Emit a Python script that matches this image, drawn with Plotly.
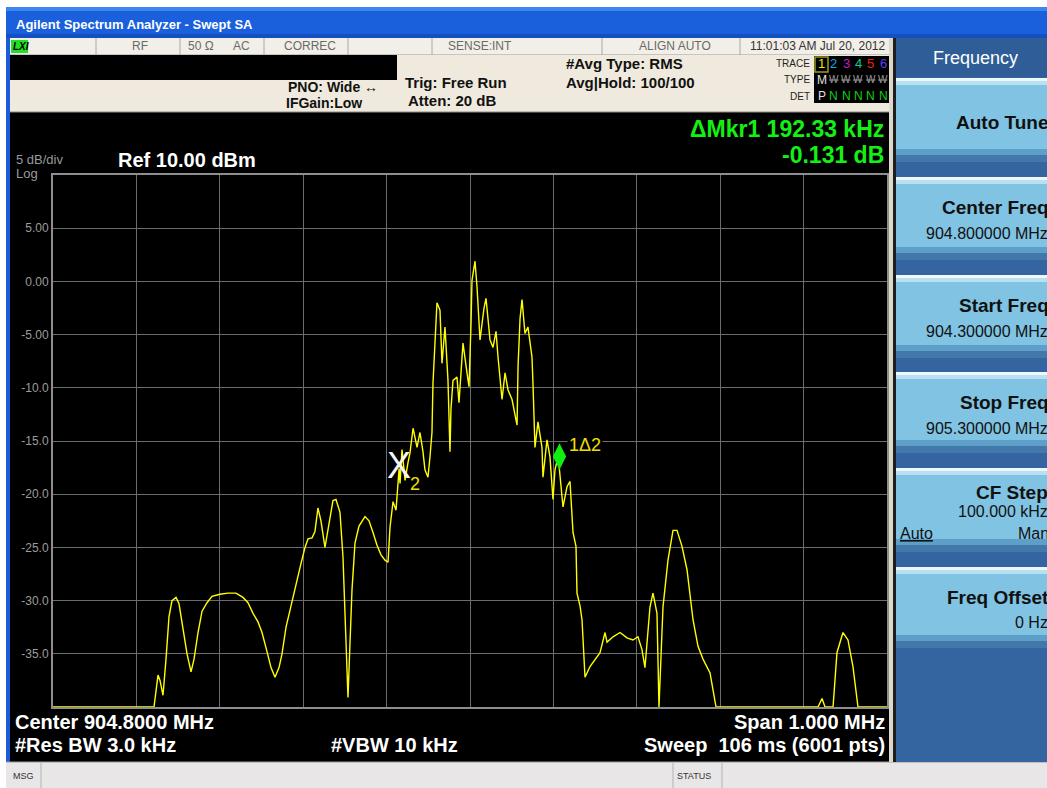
import plotly.graph_objects as go

# ---------------- data ----------------
freq_mhz = [904.3000, 904.4163, 904.4211, 904.4235, 904.4259, 904.4283, 904.4319, 904.4355, 904.4391, 904.4427,
            904.4475, 904.4511, 904.4559, 904.4607, 904.4655, 904.4691, 904.4739, 904.4787, 904.4847, 904.4906,
            904.5002, 904.5098, 904.5194, 904.5278, 904.5338, 904.5398, 904.5458, 904.5506, 904.5566, 904.5614,
            904.5662, 904.5710, 904.5746, 904.5794, 904.5842, 904.5890, 904.5926, 904.5974, 904.6022, 904.6058,
            904.6106, 904.6141, 904.6177, 904.6213, 904.6261, 904.6309, 904.6357, 904.6393, 904.6441, 904.6477,
            904.6501, 904.6525, 904.6537, 904.6561, 904.6585, 904.6621, 904.6669, 904.6741, 904.6789, 904.6837,
            904.6885, 904.6933, 904.6981, 904.7017, 904.7041, 904.7077, 904.7113, 904.7150, 904.7161, 904.7185,
            904.7221, 904.7257, 904.7281, 904.7317, 904.7365, 904.7400, 904.7436, 904.7460, 904.7496, 904.7520,
            904.7544, 904.7556, 904.7580, 904.7604, 904.7640, 904.7664, 904.7700, 904.7736, 904.7760, 904.7772,
            904.7796, 904.7844, 904.7868, 904.7892, 904.7916, 904.7964, 904.7988, 904.8012, 904.8024, 904.8060,
            904.8084, 904.8120, 904.8144, 904.8168, 904.8192, 904.8216, 904.8240, 904.8276, 904.8312, 904.8336,
            904.8360, 904.8384, 904.8420, 904.8456, 904.8504, 904.8540, 904.8564, 904.8576, 904.8600, 904.8624,
            904.8659, 904.8695, 904.8743, 904.8755, 904.8779, 904.8815, 904.8863, 904.8875, 904.8923, 904.8959,
            904.8995, 904.9019, 904.9055, 904.9073, 904.9115, 904.9163, 904.9199, 904.9235, 904.9271, 904.9283,
            904.9319, 904.9343, 904.9379, 904.9439, 904.9499, 904.9559, 904.9619, 904.9643, 904.9715, 904.9799,
            904.9882, 904.9954, 905.0014, 905.0062, 905.0098, 905.0134, 905.0158, 905.0194, 905.0242, 905.0266,
            905.0290, 905.0314, 905.0374, 905.0434, 905.0482, 905.0542, 905.0602, 905.0674, 905.0734, 905.0794,
            905.0878, 905.0926, 905.0950, 905.2173, 905.2221, 905.2257, 905.2353, 905.2376, 905.2400, 905.2472,
            905.2532, 905.2592, 905.2628, 905.2652, 905.3000]
level_dbm = [-40.0, -40.0, -40.0, -38.5, -37.0, -37.5, -38.9, -35.5, -31.5, -30.0,
             -29.7, -30.3, -32.5, -35.0, -36.7, -35.5, -33.0, -31.0, -30.2, -29.6,
             -29.4, -29.3, -29.3, -29.7, -30.2, -31.2, -32.0, -33.0, -34.8, -36.3,
             -37.2, -36.3, -35.0, -32.5, -30.9, -29.2, -28.1, -26.5, -25.0, -24.2,
             -24.1, -23.5, -21.3, -22.5, -25.0, -22.8, -20.6, -20.5, -21.7, -25.9,
             -30.6, -37.0, -39.1, -34.0, -29.0, -24.6, -23.0, -22.1, -22.5, -23.6,
             -24.8, -25.7, -26.2, -26.4, -23.1, -20.7, -21.5, -17.6, -19.0, -15.8,
             -18.7, -17.0, -16.1, -13.8, -15.6, -14.2, -16.0, -17.7, -18.4, -16.5,
             -14.2, -9.6, -5.0, -2.0, -2.7, -7.7, -4.3, -9.3, -16.0, -12.0,
             -9.3, -9.0, -11.4, -8.0, -5.8, -8.6, -9.9, -4.0, 0.1, 1.9,
             -0.5, -5.5, -3.9, -2.5, -1.6, -3.6, -5.5, -6.2, -4.7, -7.1,
             -9.0, -11.1, -8.6, -10.2, -11.1, -12.5, -13.5, -8.0, -3.5, -1.7,
             -4.9, -4.3, -7.1, -9.6, -15.6, -13.2, -15.6, -18.4, -14.9, -16.5,
             -20.5, -17.7, -16.5, -17.73, -21.2, -19.3, -18.8, -23.6, -24.9, -29.3,
             -30.5, -31.8, -37.2, -36.2, -35.5, -34.9, -33.0, -33.9, -33.4, -33.0,
             -33.5, -33.7, -33.4, -34.6, -36.3, -32.5, -30.6, -29.3, -31.2, -40.0,
             -36.0, -30.6, -26.2, -23.4, -23.4, -24.9, -27.1, -31.8, -34.3, -35.5,
             -36.8, -39.1, -40.0, -40.0, -39.2, -40.0, -40.0, -37.5, -34.9, -33.0,
             -33.7, -36.2, -38.5, -40.0, -40.0]

mkr_freq = [904.9073, 904.7150]      # marker 1 (delta), marker 2 (reference)
mkr_level = [-17.73, -17.60]

ytick_vals = [5, 0, -5, -10, -15, -20, -25, -30, -35]
ytick_text = ["5.00", "0.00", "-5.00", "-10.0", "-15.0", "-20.0", "-25.0", "-30.0", "-35.0"]
xgrid_vals = [904.3, 904.4, 904.5, 904.6, 904.7, 904.8, 904.9, 905.0, 905.1, 905.2, 905.3]

start_mhz, stop_mhz = 904.3, 905.3
ref_dbm, bottom_dbm = 10.0, -40.0

# ---------------- geometry helpers ----------------
W, H = 1047, 788
L, R, T, B = 53, 887, 175, 707
SANS = "Liberation Sans, Arial, sans-serif"


def px(x):
    return (x - L) / (R - L)


def py(y):
    return (B - y) / (B - T)


shapes = []
annos = []


def rect(x0, y0, x1, y1, color, lw=0, lc=None):
    shapes.append(dict(type="rect", xref="paper", yref="paper",
                       x0=px(x0), x1=px(x1), y0=py(y1), y1=py(y0),
                       fillcolor=color, line=dict(width=lw, color=lc or color),
                       layer="below"))


def vline(x, y0, y1, color, w=1):
    shapes.append(dict(type="line", xref="paper", yref="paper",
                       x0=px(x), x1=px(x), y0=py(y1), y1=py(y0),
                       line=dict(width=w, color=color), layer="below"))


def hline(x0, x1, y, color, w=1):
    shapes.append(dict(type="line", xref="paper", yref="paper",
                       x0=px(x0), x1=px(x1), y0=py(y), y1=py(y),
                       line=dict(width=w, color=color), layer="below"))


def txt(x, y, s, size=12, color="white", bold=False, xanchor="left", family=SANS, bg=None):
    d = dict(x=px(x), y=py(y), xref="paper", yref="paper",
             text=("<b>%s</b>" % s) if bold else s, showarrow=False,
             xanchor=xanchor, yanchor="middle", borderpad=0,
             font=dict(size=size, color=color, family=family))
    if bg:
        d["bgcolor"] = bg
    annos.append(d)


# ---------------- window chrome ----------------
rect(0, 0, W, 7, "#ffffff")
rect(0, 0, 6, H, "#ffffff")
rect(6, 7, W, 38, "#1a5fdc")
rect(6, 7, W, 11, "#3d86f2")
rect(6, 34, W, 38, "#1450c0")
rect(6, 38, 10, 762, "#1c5ad8")
txt(15, 24, "Agilent Spectrum Analyzer - Swept SA", 13, "white", True)

# status row
rect(10, 38, 889, 55, "#f1efe8")
hline(10, 889, 55, "#9a9a9a")
for xd in [96, 180, 264, 348, 432, 602, 740]:
    vline(xd, 38, 55, "#a8a8a8")
rect(11, 40, 28, 53, "#22e022")
txt(12, 46.5, "<i>LXI</i>", 10, "#000000", True)
txt(140, 46.5, "RF", 12, "#6a6a6a", xanchor="center")
txt(187, 46.5, "50 Ω", 12, "#6a6a6a")
txt(232, 46.5, "AC", 12, "#6a6a6a")
txt(283, 46.5, "CORREC", 12, "#6a6a6a")
txt(513, 46.5, "SENSE:INT", 12, "#6a6a6a", xanchor="right")
txt(675, 46.5, "ALIGN AUTO", 12, "#6a6a6a", xanchor="center")
txt(887, 46.5, "11:01:03 AM Jul 20, 2012", 12, "#333333", xanchor="right")

# settings panel
rect(10, 55, 889, 112, "#efeadd")
rect(10, 55, 397, 80, "#000000")
hline(10, 889, 112, "#8a8a8a")
txt(287, 87, "PNO: Wide ↔", 14, "#111111", True)
txt(285, 103, "IFGain:Low", 14, "#111111", True)
txt(404, 82, "Trig: Free Run", 15, "#111111", True)
txt(407, 100, "Atten: 20 dB", 15, "#111111", True)
txt(565, 64, "#Avg Type: RMS", 15, "#111111", True)
txt(565, 82, "Avg|Hold: 100/100", 15, "#111111", True)

txt(811, 63, "TRACE", 10, "#222222", xanchor="right")
txt(811, 80, "TYPE", 10, "#222222", xanchor="right")
txt(811, 97, "DET", 10, "#222222", xanchor="right")
rect(814, 56, 891, 103, "#000000")
rect(815, 57, 828, 72, "#000000", 1.5, "#9a9a20")
trace_cols = ["#e8e800", "#10a8e8", "#c818c8", "#18c890", "#f02020", "#5a40f0"]
for i, c in enumerate(trace_cols):
    txt(821.5 + i * 12.3, 64, str(i + 1), 13, c, xanchor="center")
txt(821.5, 80, "M", 12, "#e0e0e0", xanchor="center")
for i in range(1, 6):
    txt(821.5 + i * 12.3, 80, "<s>W</s>", 10, "#9a9a9a", xanchor="center")
txt(821.5, 96, "P", 12, "#e0e0e0", xanchor="center")
for i in range(1, 6):
    txt(821.5 + i * 12.3, 96, "N", 12, "#10d010", xanchor="center")

# marker readout and reference labels
txt(885, 129, "ΔMkr1 192.33 kHz", 23, "#14f014", True, "right")
txt(885, 154.5, "-0.131 dB", 23, "#14f014", True, "right")
txt(15, 160, "5 dB/div", 13, "#9a9a9a")
txt(15, 173, "Log", 13, "#9a9a9a")
txt(117, 160, "Ref 10.00 dBm", 20, "#ffffff", True)

# bottom readouts
txt(14, 722, "Center 904.8000 MHz", 20, "#ffffff", True)
txt(14, 745, "#Res BW 3.0 kHz", 20, "#ffffff", True)
txt(330, 745, "#VBW 10 kHz", 20, "#ffffff", True)
txt(886, 722, "Span 1.000 MHz", 20, "#ffffff", True, "right")
txt(886, 745, "Sweep  106 ms (6001 pts)", 20, "#ffffff", True, "right")

# bottom status bar
rect(6, 762, W, H, "#e8e6e6")
hline(6, W, 762, "#9a9a9a")
for xd in [41, 673, 722]:
    vline(xd, 763, H, "#b4b4b4")
txt(12, 776, "MSG", 9, "#333333")
txt(676, 776, "STATUS", 9, "#333333")

# right soft-key panel
rect(889, 38, 893, 762, "#ddd8cc")
rect(893, 38, 896, 762, "#1e1e1e")
rect(896, 38, W, 762, "#3465a1")
rect(896, 38, W, 77, "#2f5d97")
txt(975, 58, "Frequency", 18, "#ffffff", xanchor="center")
buttons = [(78, 162), (177, 260), (275, 358), (372, 453), (468, 552), (567, 648)]
for (y0, y1) in buttons:
    rect(896, y0, W, y1, "#80c3e3")
    rect(896, y0, W, y0 + 3, "#eef8fc")
    rect(896, y0 + 3, W, y0 + 7, "#b8e0f1")
    rect(896, y1 - 13, W, y1 - 7, "#5e9fca")
    rect(896, y1 - 7, W, y1, "#4279aa")
txt(1050, 122, "Auto Tune", 19, "#111111", True, "right")
txt(1050, 207, "Center Freq", 19, "#111111", True, "right")
txt(1049, 233, "904.800000 MHz", 16, "#111111", xanchor="right")
txt(1050, 305, "Start Freq", 19, "#111111", True, "right")
txt(1049, 331, "904.300000 MHz", 16, "#111111", xanchor="right")
txt(1050, 402, "Stop Freq", 19, "#111111", True, "right")
txt(1049, 428, "905.300000 MHz", 16, "#111111", xanchor="right")
txt(1049, 492, "CF Step", 19, "#111111", True, "right")
txt(1049, 512, "100.000 kHz", 16, "#111111", xanchor="right")
txt(899, 533, "<u>Auto</u>", 16, "#111111")
txt(1017, 533, "Man", 16, "#111111")
txt(1050, 597, "Freq Offset", 19, "#111111", True, "right")
txt(1049, 622, "0 Hz", 16, "#111111", xanchor="right")

# ---------------- the trace and markers ----------------
fig = go.Figure()
fig.add_trace(go.Scatter(x=freq_mhz, y=level_dbm, mode="lines",
                         line=dict(color="#ffff00", width=1.4), hoverinfo="skip"))

px_per_db = (B - T) / (ref_dbm - bottom_dbm)
diamond_lift = 13.5 / px_per_db
fig.add_trace(go.Scatter(x=[mkr_freq[0]], y=[mkr_level[0] + diamond_lift], mode="markers",
                         marker=dict(symbol="diamond-tall", size=19, color="#10f010",
                                     line=dict(width=0)), hoverinfo="skip"))
fig.add_trace(go.Scatter(x=[mkr_freq[1]], y=[mkr_level[1]], mode="text", text=["X"],
                         textposition="middle center",
                         textfont=dict(size=36, color="#f4f4f4",
                                       family="Liberation Sans Narrow, Liberation Sans, Arial"),
                         hoverinfo="skip"))
annos.append(dict(x=mkr_freq[1], y=mkr_level[1], xref="x", yref="y", text="2", showarrow=False,
                  xshift=16, yshift=-15, font=dict(size=18, color="#f0e000", family=SANS)))
annos.append(dict(x=mkr_freq[0], y=mkr_level[0], xref="x", yref="y", text="1Δ2", showarrow=False,
                  xanchor="left", xshift=8, yshift=25, bgcolor="#000000", borderpad=1,
                  font=dict(size=18, color="#f0e000", family=SANS)))

fig.update_layout(
    width=W, height=H,
    margin=dict(l=L, r=W - R, t=T, b=H - B, pad=0),
    paper_bgcolor="#000000", plot_bgcolor="#000000",
    showlegend=False, hovermode=False,
    shapes=shapes, annotations=annos,
    xaxis=dict(range=[start_mhz, stop_mhz], tickvals=xgrid_vals, showticklabels=False,
               showgrid=True, gridcolor="#6c6c6c", gridwidth=1, zeroline=False,
               showline=True, linecolor="#8e8e8e", linewidth=2, mirror=True, ticks=""),
    yaxis=dict(range=[bottom_dbm, ref_dbm], tickvals=ytick_vals, ticktext=ytick_text,
               showgrid=True, gridcolor="#6c6c6c", gridwidth=1, zeroline=False,
               showline=True, linecolor="#8e8e8e", linewidth=2, mirror=True, ticks="",
               tickfont=dict(size=12, color="#9c9c9c", family=SANS)),
)

fig.write_html("out.html", config={"displayModeBar": False},
               post_script="document.body.style.margin='0px';document.body.style.overflow='hidden';")
